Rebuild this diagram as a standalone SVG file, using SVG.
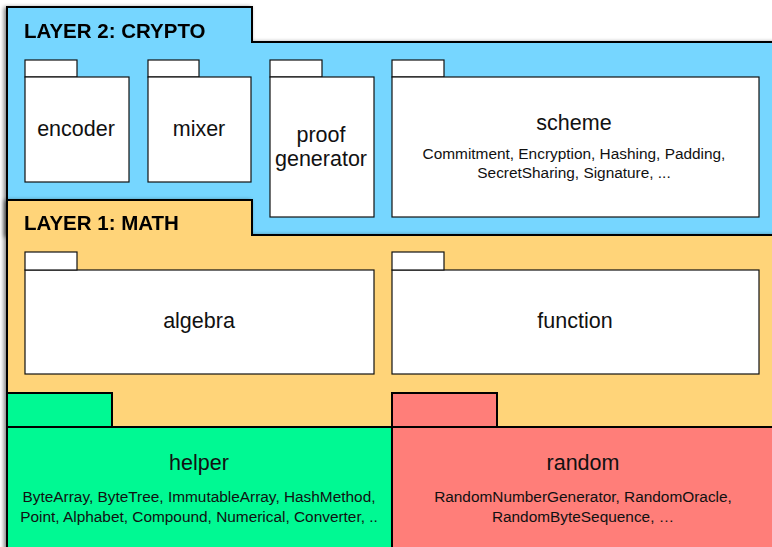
<svg xmlns="http://www.w3.org/2000/svg" width="772" height="547" viewBox="0 0 772 547">
<defs>
<style>
.layer{stroke:#000;stroke-width:2;stroke-linejoin:miter}
.pkg{fill:#fff;stroke:#111;stroke-width:1.2}
.title{font-family:"Liberation Sans",Arial,sans-serif;font-weight:bold;font-size:20.5px;fill:#000}
.name{font-family:"Liberation Sans",Arial,sans-serif;font-size:21.5px;fill:#111;text-anchor:middle}
.sub{font-family:"Liberation Sans",Arial,sans-serif;font-size:15.4px;fill:#111;text-anchor:middle}
</style>
<filter id="sh" x="-5%" y="-5%" width="110%" height="110%">
<feGaussianBlur in="SourceAlpha" stdDeviation="2"/>
<feOffset dx="-2" dy="1"/>
<feComponentTransfer><feFuncA type="linear" slope="0.5"/></feComponentTransfer>
<feMerge><feMergeNode/><feMergeNode in="SourceGraphic"/></feMerge>
</filter>
</defs>
<g id="layer2" filter="url(#sh)">
<path class="layer" fill="#76D6FF" d="M7,7 H252 V42 H780 V235 H7 Z"/>
<text class="title" x="24" y="38">LAYER 2: CRYPTO</text>
</g>
<g id="layer1" filter="url(#sh)">
<path class="layer" fill="#FFD479" d="M7,200 H252 V235 H780 V560 H7 Z"/>
<text class="title" x="24" y="230">LAYER 1: MATH</text>
</g>
<g id="encoder">
<rect class="pkg" x="25" y="60" width="52" height="17"/>
<rect class="pkg" x="25" y="77" width="104" height="105"/>
<text class="name" x="76" y="136">encoder</text>
</g>
<g id="mixer">
<rect class="pkg" x="148" y="60" width="51" height="17"/>
<rect class="pkg" x="148" y="77" width="103" height="105"/>
<text class="name" x="199" y="136">mixer</text>
</g>
<g id="proof-generator">
<rect class="pkg" x="270" y="60" width="52" height="17"/>
<rect class="pkg" x="270" y="77" width="104" height="140"/>
<text class="name" x="321" y="142">proof</text>
<text class="name" x="321" y="166">generator</text>
</g>
<g id="scheme">
<rect class="pkg" x="392" y="60" width="52" height="17"/>
<rect class="pkg" x="392" y="77" width="367" height="140"/>
<text class="name" x="574" y="130">scheme</text>
<text class="sub" x="574" y="159">Commitment, Encryption, Hashing, Padding,</text>
<text class="sub" x="574" y="178">SecretSharing, Signature, ...</text>
</g>
<g id="algebra">
<rect class="pkg" x="25" y="270" width="349" height="104"/>
<rect class="pkg" x="25" y="252" width="52" height="18"/>
<text class="name" x="199" y="328">algebra</text>
</g>
<g id="function">
<rect class="pkg" x="392" y="270" width="367" height="104"/>
<rect class="pkg" x="392" y="252" width="52" height="18"/>
<text class="name" x="575" y="328">function</text>
</g>
<g id="helper">
<rect class="layer" fill="#00F993" x="7" y="393" width="105" height="34"/>
<rect class="layer" fill="#00F993" x="7" y="427" width="385" height="130"/>
<text class="name" x="199" y="470">helper</text>
<text class="sub" x="199" y="502">ByteArray, ByteTree, ImmutableArray, HashMethod,</text>
<text class="sub" x="199" y="522">Point, Alphabet, Compound, Numerical, Converter, ..</text>
</g>
<g id="random">
<rect class="layer" fill="#FF7E79" x="392" y="393" width="105" height="34"/>
<rect class="layer" fill="#FF7E79" x="392" y="427" width="390" height="130"/>
<text class="name" x="583" y="470">random</text>
<text class="sub" x="583" y="502">RandomNumberGenerator, RandomOracle,</text>
<text class="sub" x="583" y="522">RandomByteSequence, …</text>
</g>
<g id="connectors"></g>
</svg>
